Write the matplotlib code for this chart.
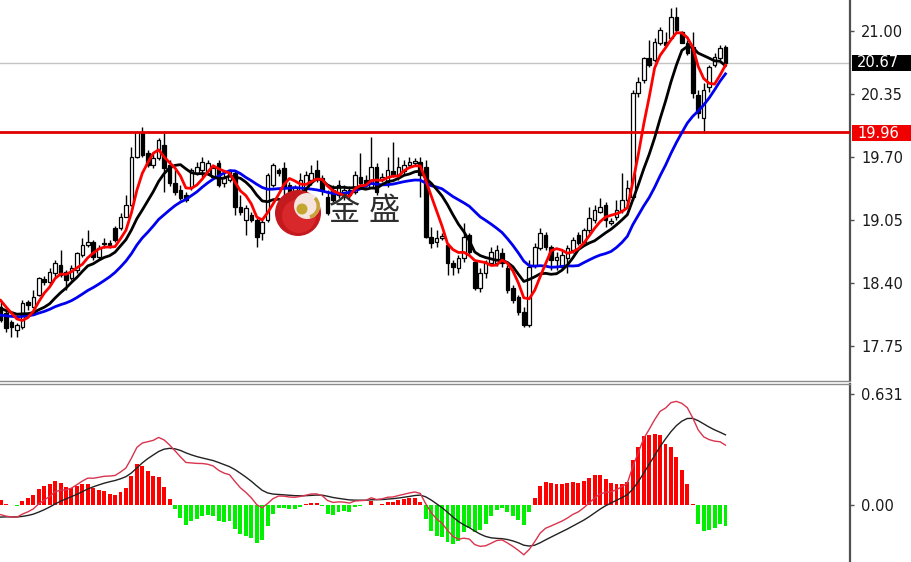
import numpy as np
import matplotlib
matplotlib.use("Agg")
import matplotlib.pyplot as plt
from matplotlib.patches import Rectangle, Circle, Wedge

# ---------------- data ----------------
opens = [18.15, 18.09, 18.00, 17.91, 17.95, 18.20, 18.15, 18.28, 18.44, 18.41,
         18.50, 18.59, 18.51, 18.45, 18.53, 18.69, 18.79, 18.82, 18.67, 18.80,
         18.81, 18.97, 18.97, 19.08, 19.20, 19.70, 19.96, 19.74, 19.62, 19.69,
         19.82, 19.62, 19.43, 19.36, 19.31, 19.39, 19.53, 19.57, 19.53, 19.49,
         19.64, 19.43, 19.46, 19.53, 19.18, 19.05, 19.10, 19.05, 18.92, 19.05,
         19.41, 19.57, 19.59, 19.41, 19.26, 19.31, 19.38, 19.46, 19.57, 19.48,
         19.29, 19.36, 19.31, 19.29, 19.36, 19.34, 19.49, 19.46, 19.39, 19.60,
         19.47, 19.44, 19.55, 19.51, 19.55, 19.62, 19.64, 19.65, 19.60, 18.87,
         18.82, 18.86, 18.79, 18.61, 18.55, 18.66, 18.89, 18.62, 18.35, 18.50,
         18.61, 18.61, 18.71, 18.55, 18.35, 18.25, 18.10, 17.97, 18.59, 18.76,
         18.89, 18.77, 18.64, 18.56, 18.66, 18.74, 18.89, 18.82, 18.95, 19.05,
         19.13, 19.20, 19.02, 19.08, 19.15, 19.26, 19.29, 20.36, 20.49, 20.72,
         20.70, 20.88, 20.89, 20.93, 21.14, 20.99, 20.88, 20.83, 20.34, 20.10,
         20.42, 20.65, 20.72, 20.83]
highs = [18.22, 18.12, 18.02, 17.99, 18.22, 18.22, 18.33, 18.46, 18.47, 18.55,
         18.64, 18.74, 18.53, 18.59, 18.72, 18.86, 18.95, 18.84, 18.79, 18.86,
         18.84, 18.99, 19.12, 19.31, 19.80, 19.97, 20.01, 19.77, 19.74, 19.90,
         19.95, 19.67, 19.57, 19.41, 19.34, 19.59, 19.65, 19.70, 19.67, 19.62,
         19.67, 19.57, 19.58, 19.57, 19.31, 19.20, 19.13, 19.07, 19.05, 19.53,
         19.64, 19.59, 19.65, 19.44, 19.41, 19.53, 19.55, 19.62, 19.67, 19.51,
         19.36, 19.41, 19.46, 19.41, 19.40, 19.55, 19.74, 19.51, 19.91, 19.64,
         19.53, 19.70, 19.85, 19.70, 19.67, 19.70, 19.69, 19.70, 19.67, 18.98,
         18.95, 18.92, 18.81, 18.64, 18.69, 19.02, 18.92, 18.64, 18.55, 18.64,
         18.77, 18.79, 18.76, 18.59, 18.38, 18.28, 18.15, 18.64, 18.81, 18.97,
         18.93, 18.79, 18.72, 18.74, 18.79, 18.87, 18.93, 18.97, 19.18, 19.20,
         19.28, 19.23, 19.07, 19.26, 19.53, 19.46, 20.39, 20.53, 20.73, 20.91,
         20.93, 21.04, 20.99, 21.24, 21.25, 21.00, 20.91, 20.99, 20.39, 20.46,
         20.65, 20.77, 20.86, 20.86]
lows = [18.00, 17.89, 17.84, 17.84, 17.92, 18.12, 18.14, 18.26, 18.38, 18.38,
        18.46, 18.46, 18.33, 18.43, 18.50, 18.67, 18.77, 18.64, 18.64, 18.76,
        18.76, 18.82, 18.95, 19.08, 19.19, 19.69, 19.70, 19.60, 19.59, 19.67,
        19.34, 19.40, 19.31, 19.26, 19.24, 19.36, 19.51, 19.49, 19.51, 19.47,
        19.39, 19.39, 19.44, 19.10, 19.10, 18.89, 19.03, 18.77, 18.84, 19.03,
        19.39, 19.50, 19.28, 19.31, 19.20, 19.28, 19.34, 19.41, 19.44, 19.31,
        19.10, 19.23, 19.28, 19.26, 19.26, 19.32, 19.41, 19.39, 19.38, 19.31,
        19.44, 19.39, 19.49, 19.46, 19.51, 19.60, 19.62, 19.29, 18.86, 18.76,
        18.77, 18.84, 18.48, 18.48, 18.50, 18.62, 18.69, 18.33, 18.31, 18.45,
        18.59, 18.57, 18.56, 18.30, 18.19, 18.07, 17.95, 17.95, 18.55, 18.74,
        18.74, 18.53, 18.53, 18.53, 18.50, 18.71, 18.79, 18.80, 18.92, 19.02,
        19.12, 18.98, 19.00, 19.05, 19.12, 19.18, 19.26, 20.32, 20.46, 20.63,
        20.68, 20.86, 20.86, 20.91, 20.98, 20.88, 20.75, 20.31, 20.10, 19.95,
        20.37, 20.63, 20.70, 20.65]
closes = [18.02, 17.93, 17.95, 17.97, 18.19, 18.17, 18.25, 18.45, 18.41, 18.51,
          18.61, 18.48, 18.43, 18.55, 18.71, 18.79, 18.82, 18.67, 18.76, 18.81,
          18.79, 18.84, 19.08, 19.20, 19.70, 19.96, 19.72, 19.62, 19.69, 19.88,
          19.59, 19.43, 19.34, 19.28, 19.26, 19.57, 19.60, 19.65, 19.64, 19.59,
          19.41, 19.48, 19.55, 19.18, 19.13, 19.17, 19.05, 18.87, 19.03, 19.51,
          19.62, 19.53, 19.39, 19.34, 19.38, 19.46, 19.51, 19.53, 19.48, 19.36,
          19.12, 19.26, 19.41, 19.36, 19.31, 19.51, 19.43, 19.43, 19.60, 19.34,
          19.49, 19.57, 19.51, 19.60, 19.62, 19.65, 19.66, 19.51, 18.87, 18.81,
          18.86, 18.88, 18.61, 18.56, 18.66, 18.87, 18.72, 18.35, 18.50, 18.61,
          18.72, 18.74, 18.61, 18.33, 18.22, 18.10, 17.97, 18.56, 18.77, 18.92,
          18.77, 18.64, 18.67, 18.69, 18.76, 18.84, 18.81, 18.95, 19.07, 19.15,
          19.18, 19.05, 19.04, 19.15, 19.26, 19.38, 20.36, 20.47, 20.72, 20.65,
          20.89, 21.01, 20.86, 21.14, 21.01, 20.88, 20.77, 20.36, 20.15, 20.39,
          20.63, 20.73, 20.82, 20.67]

# moving-average periods and the price level before the visible window
ma_periods = [5, 10, 20]
ma_pre_levels = [18.27, 18.15, 18.07]
ma_colors = ["#FF0000", "#000000", "#0000F0"]

# MACD parameters and starting states
macd_fast, macd_slow, macd_signal = 12, 26, 9
ema_fast_start, ema_slow_start, dea_start = 18.10, 18.15, -0.07

price_ticks = [21.00, 20.35, 19.70, 19.05, 18.40, 17.75]
macd_ticks = [0.631, 0.0]
macd_tick_labels = ["0.631", "0.00"]
support_level = 19.96
last_price = 20.67
watermark = ["金", "盛"]

# ---------------- computations ----------------
c = np.array(closes)
o = np.array(opens)
h = np.array(highs)
l = np.array(lows)
n = len(c)
x = np.arange(n)


def sma(vals, period, pre):
    arr = np.concatenate([np.full(period - 1, pre), vals])
    cs = np.cumsum(np.insert(arr, 0, 0.0))
    return (cs[period:] - cs[:-period]) / period


def ema(vals, period, seed):
    a = 2.0 / (period + 1)
    out = []
    prev = seed
    for v in vals:
        prev = prev + a * (v - prev)
        out.append(prev)
    return np.array(out)


dif = ema(c, macd_fast, ema_fast_start) - ema(c, macd_slow, ema_slow_start)
dea = ema(dif, macd_signal, dea_start)
hist = 2 * (dif - dea)

# ---------------- figure ----------------
W, H = 911, 562
fig = plt.figure(figsize=(W / 100, H / 100), dpi=100)
fig.patch.set_facecolor("white")

axw = 850 / W
ax1 = fig.add_axes([0, (H - 380) / H, axw, 380 / H])
ax2 = fig.add_axes([0, 0, axw, (H - 384) / H])

xlim = (-0.11, 155.85)

# candles
for i in range(n):
    ax1.vlines(x[i], l[i], h[i], color="black", lw=1, zorder=2)
    bull = c[i] >= o[i]
    bottom = min(o[i], c[i])
    height = max(abs(c[i] - o[i]), 0.012)
    ax1.add_patch(Rectangle((x[i] - 0.33, bottom), 0.66, height,
                            facecolor="white" if bull else "black",
                            edgecolor="black", lw=0.9, zorder=3))

ax1.axhline(last_price, color="#C4C4C4", lw=1, zorder=1)
ax1.axhline(support_level, color="#E00000", lw=2, zorder=4)

for p, pre, col in list(zip(ma_periods, ma_pre_levels, ma_colors))[::-1]:
    ax1.plot(x, sma(c, p, pre), color=col, lw=2, zorder=5)

ax1.set_xlim(*xlim)
ax1.set_ylim(17.398, 21.32)
ax1.yaxis.tick_right()
ax1.set_yticks(price_ticks)
ax1.set_yticklabels([f"{t:.2f}" for t in price_ticks])
ax1.set_xticks([])

# MACD panel
cols = ["#FF0000" if v >= 0 else "#00F000" for v in hist]
ax2.bar(x, hist, width=0.72, color=cols, zorder=2)
ax2.plot(x, dea, color="#222222", lw=1, zorder=3)
ax2.plot(x, dif, color="#D8344E", lw=1, zorder=4)
ax2.set_xlim(*xlim)
ax2.set_ylim(-0.321, 0.687)
ax2.yaxis.tick_right()
ax2.set_yticks(macd_ticks)
ax2.set_yticklabels(macd_tick_labels)
ax2.set_xticks([])

for ax in (ax1, ax2):
    for s in ("left", "top", "bottom"):
        ax.spines[s].set_visible(False)
    ax.spines["right"].set_color("#505050")
    ax.spines["right"].set_linewidth(1.6)
    ax.tick_params(axis="y", direction="out", length=3, width=1,
                   color="#505050", labelsize=10.5, labelcolor="#1a1a1a", pad=5)
    ax.set_facecolor("white")

# separator between panels
for yy in (380.5, 383.5):
    fig.add_artist(plt.Line2D([0, axw], [1 - yy / H, 1 - yy / H],
                              transform=fig.transFigure, color="#8a8a8a", lw=1))

# price tags on the axis
def tag(ypx, txt, fc):
    fig.add_artist(Rectangle((852 / W, 1 - (ypx + 8) / H), 59 / W, 16 / H,
                             transform=fig.transFigure, facecolor=fc,
                             edgecolor="none", zorder=10))
    fig.text(857 / W, 1 - ypx / H, txt, color="white", fontsize=10.5,
             va="center", ha="left", zorder=11)

tag(62.5, f"{last_price:.2f}", "black")
tag(133, f"{support_level:.2f}", "#F00000")

# watermark logo
tr = fig.dpi_scale_trans
def pin(px, py):
    return (px / 100, (H - py) / 100)

fig.add_artist(Circle(pin(298, 213), 0.23, transform=tr, facecolor="#C41A1E",
                      edgecolor="none", zorder=8))
fig.add_artist(Circle(pin(299, 216), 0.17, transform=tr, facecolor="#D8282C",
                      edgecolor="none", zorder=8))
fig.add_artist(Circle(pin(307, 206), 0.13, transform=tr, facecolor="#F6E4DE",
                      edgecolor="none", zorder=8))
fig.add_artist(Wedge(pin(307, 206), 0.13, -75, 45, width=0.035, transform=tr,
                     facecolor="#C9A23C", edgecolor="none", zorder=8))
fig.add_artist(Circle(pin(302, 209), 0.055, transform=tr, facecolor="#C4A52E",
                      edgecolor="none", zorder=8))
for ch, px in zip(watermark, (344, 384)):
    fig.text(px / W, 1 - 211 / H, ch, fontsize=22.5, color="#2e2e2e",
             family=["Noto Sans CJK SC", "DejaVu Sans"],
             ha="center", va="center", zorder=9)

fig.savefig("out.png", dpi=100, facecolor="white")
